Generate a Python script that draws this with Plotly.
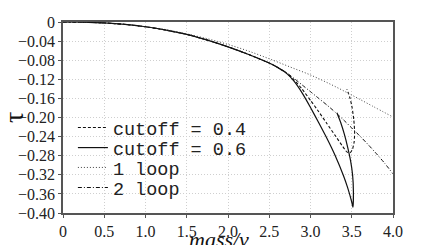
import plotly.graph_objects as go

# ---- data ----
c06_x = [0, 0.25, 0.5, 0.75, 1.0, 1.25, 1.5, 1.75, 2.0, 2.25, 2.5, 2.6, 2.7, 2.8, 2.9, 3.0,
         3.1, 3.2, 3.3, 3.4, 3.45, 3.5, 3.515,
         3.52, 3.51, 3.485, 3.45, 3.41, 3.365, 3.32]
c06_y = [0, -0.0005, -0.002, -0.005, -0.010, -0.017, -0.026, -0.038, -0.052, -0.068, -0.086,
         -0.095, -0.106, -0.124, -0.149, -0.179, -0.211, -0.244, -0.280, -0.322, -0.347, -0.377,
         -0.388, -0.355, -0.320, -0.290, -0.262, -0.235, -0.210, -0.190]

c04_x = [0, 0.25, 0.5, 0.75, 1.0, 1.25, 1.5, 1.75, 2.0, 2.25, 2.5, 2.6, 2.7, 2.8, 2.9, 3.0,
         3.1, 3.2, 3.3, 3.38, 3.44, 3.48, 3.51, 3.53, 3.535, 3.525, 3.505, 3.48, 3.455, 3.44]
c04_y = [0, -0.0005, -0.002, -0.005, -0.010, -0.017, -0.026, -0.038, -0.052, -0.068, -0.086,
         -0.095, -0.106, -0.121, -0.141, -0.164, -0.188, -0.213, -0.238, -0.258, -0.272,
         -0.274, -0.266, -0.250, -0.230, -0.205, -0.180, -0.160, -0.147, -0.141]

loop1_x = [0, 0.25, 0.5, 0.75, 1.0, 1.25, 1.5, 1.75, 2.0, 2.25, 2.5, 2.75, 3.0, 3.25, 3.5, 3.75, 4.0]
loop1_y = [0, -0.0005, -0.002, -0.005, -0.010, -0.016, -0.025, -0.035, -0.047, -0.061, -0.077,
           -0.094, -0.111, -0.131, -0.153, -0.176, -0.199]

loop2_x = [0, 0.25, 0.5, 0.75, 1.0, 1.25, 1.5, 1.75, 2.0, 2.25, 2.5, 2.6, 2.7, 2.8, 2.9, 3.0,
           3.1, 3.2, 3.3, 3.4, 3.5, 3.6, 3.7, 3.8, 3.9, 4.0]
loop2_y = [0, -0.0005, -0.002, -0.005, -0.010, -0.017, -0.026, -0.038, -0.052, -0.068, -0.086,
           -0.095, -0.105, -0.118, -0.132, -0.146, -0.160, -0.174, -0.189, -0.205, -0.222,
           -0.239, -0.257, -0.276, -0.296, -0.318]

x_ticks = [0, 0.5, 1.0, 1.5, 2.0, 2.5, 3.0, 3.5, 4.0]
x_ticktext = ["0", "0.5", "1.0", "1.5", "2.0", "2.5", "3.0", "3.5", "4.0"]
y_ticks = [0, -0.04, -0.08, -0.12, -0.16, -0.20, -0.24, -0.28, -0.32, -0.36, -0.40]
y_ticktext = ["0", "\u22120.04", "\u22120.08", "\u22120.12", "\u22120.16", "\u22120.20",
              "\u22120.24", "\u22120.28", "\u22120.32", "\u22120.36", "\u22120.40"]

names = ["cutoff = 0.4", "cutoff = 0.6", "1 loop", "2 loop"]

# ---- figure ----
fig = go.Figure()
fig.add_trace(go.Scatter(x=c04_x, y=c04_y, mode="lines", name=names[0], legend="legend",
                         showlegend=True,
                         line=dict(color="#111", width=1.1, dash="3px,2px",
                                   shape="spline", smoothing=0.5)))
fig.add_trace(go.Scatter(x=c06_x, y=c06_y, mode="lines", name=names[1], legend="legend2",
                         showlegend=True,
                         line=dict(color="#111", width=1.2, shape="spline", smoothing=0.5)))
fig.add_trace(go.Scatter(x=loop1_x, y=loop1_y, mode="lines", name=names[2], legend="legend3",
                         showlegend=True,
                         line=dict(color="#444", width=1, dash="1px,2px", shape="spline")))
fig.add_trace(go.Scatter(x=loop2_x, y=loop2_y, mode="lines", name=names[3], legend="legend4",
                         showlegend=True,
                         line=dict(color="#111", width=1, dash="4px,2px,1px,2px",
                                   shape="spline", smoothing=0.6)))

leg_font = dict(family="Liberation Mono", size=18.5, color="#222")
def leg(y):
    return dict(x=0.03, y=y, xanchor="left", yanchor="middle", bgcolor="rgba(0,0,0,0)",
                borderwidth=0, font=leg_font, itemwidth=30, visible=True)

axis_common = dict(showline=True, linecolor="#555", linewidth=1.5, mirror=True,
                   showgrid=True, gridcolor="#cfcfcf", griddash="1px,2px", gridwidth=1,
                   zeroline=False, ticks="outside", ticklen=3, tickcolor="#555",
                   automargin=False,
                   tickfont=dict(family="Liberation Serif", size=16, color="#222"))

fig.update_layout(
    width=430, height=245,
    margin=dict(l=63, r=37, t=22, b=32, autoexpand=False),
    paper_bgcolor="white", plot_bgcolor="white",
    showlegend=True,
    legend=leg(0.445), legend2=leg(0.340), legend3=leg(0.236), legend4=leg(0.131),
    xaxis=dict(range=[0, 4.0], tickvals=x_ticks, ticktext=x_ticktext, **axis_common),
    yaxis=dict(range=[-0.40, 0], tickvals=y_ticks, ticktext=y_ticktext, **axis_common),
    annotations=[
        dict(text="<i>mass/v</i>", xref="paper", yref="paper", x=0.473, y=-0.14,
             xanchor="center", yanchor="middle", showarrow=False,
             font=dict(family="Liberation Serif", size=22, color="#111")),
        dict(text="\u03c4", xref="paper", yref="paper", x=-0.15, y=0.5, textangle=-90,
             xanchor="center", yanchor="middle", showarrow=False,
             font=dict(family="Liberation Serif", size=28, color="#111")),
    ],
)

fig.write_html("out.html", config={"displayModeBar": False},
               post_script="document.body.style.margin='0';")
